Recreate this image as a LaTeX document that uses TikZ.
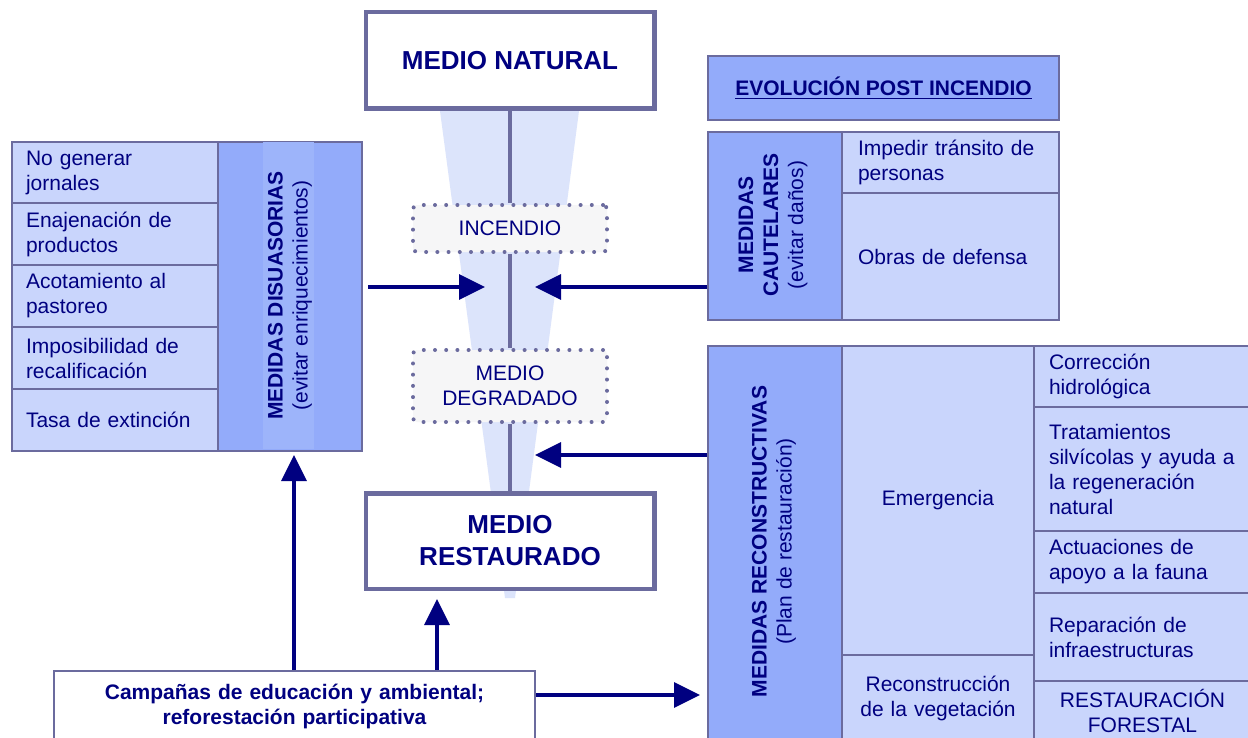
\documentclass[tikz,border=0pt]{standalone}
\usepackage{fontspec}
\setmainfont{Liberation Sans}
\usetikzlibrary{arrows.meta}
\definecolor{navy}{HTML}{000080}
\definecolor{bordc}{HTML}{6B6B9E}
\definecolor{hdrc}{HTML}{93ABFA}
\definecolor{stripec}{HTML}{9DB4FA}
\definecolor{itemc}{HTML}{C9D5FC}
\definecolor{wedgec}{HTML}{DCE4FB}
\definecolor{dotc}{HTML}{F6F6F7}
\begin{document}
\begin{tikzpicture}[x=0.5pt,y=-0.5pt,
  txt/.style={text=navy, font=\fontsize{10.5}{12.5}\selectfont},
  cell/.style={txt, draw=bordc, line width=1pt, fill=itemc, anchor=north west, inner ysep=0pt},
  lcell/.style={cell, align=left, inner xsep=7pt, text width=#1},
  ccell/.style={cell, align=center, inner xsep=0pt},
  hcell/.style={cell, fill=hdrc, inner sep=0pt},
  rot/.style={txt, rotate=90, align=center, inner sep=0pt},
  bigbox/.style={draw=bordc, line width=2.25pt, fill=white, text=navy, align=center,
     font=\fontsize{13}{16}\selectfont\bfseries, minimum width=144.25pt, inner sep=0pt},
  dotbox/.style={txt, draw=bordc, line width=2pt, dash pattern=on 0pt off 5.6pt, line cap=round,
     fill=dotc, rounded corners=2pt, align=center, minimum width=97pt, inner sep=0pt},
  vline/.style={draw=bordc, line width=2pt},
  arr/.style={draw=navy, line width=1.7pt, -{Triangle[length=13pt,width=12.5pt]}}
]
\useasboundingbox (0,0) rectangle (1248,738);
\fill[white] (0,0) rectangle (1248,738);

% wedge
\fill[wedgec] (440,111) -- (579,111) -- (515,598) -- (505,598) -- cycle;

% central boxes
\node[bigbox, minimum height=48.25pt] (nat) at (510,60.5) {MEDIO NATURAL};
\node[dotbox, minimum height=23.5pt] (inc) at (510,228.5) {INCENDIO};
\node[dotbox, minimum height=36pt] (deg) at (510,386) {MEDIO\\DEGRADADO};
\node[bigbox, minimum height=47.75pt] (rest) at (510,541) {MEDIO\\RESTAURADO};

\draw[vline] (nat) -- (inc);
\draw[vline] (inc) -- (deg);
\draw[vline] (deg) -- (rest);

% left table: medidas disuasorias
\node[lcell=89pt, minimum height=30.5pt] (d1) at (11,141) {No generar\\jornales};
\node[lcell=89pt, minimum height=31pt] (d2) at (11,202) {Enajenación de\\productos};
\node[lcell=89pt, minimum height=31pt] (d3) at (11,264) {Acotamiento al\\pastoreo};
\node[lcell=89pt, minimum height=31pt] (d4) at (11,326) {Imposibilidad de\\recalificación};
\node[lcell=89pt, minimum height=31pt] (d5) at (11,388) {Tasa de extinción};
\node[hcell, minimum width=72pt, minimum height=154.5pt] (dish) at (217,141) {};
\fill[stripec] (263,142) rectangle (314,449);
\node[rot] (dist) at (290,295.5) {{\bfseries MEDIDAS DISUASORIAS}\\(evitar enriquecimientos)};

% right top
\node[hcell, minimum width=175.5pt, minimum height=32pt, txt, font=\fontsize{10.5}{12.5}\selectfont\bfseries] (evo) at (707,55) {\underline{EVOLUCIÓN POST INCENDIO}};

% medidas cautelares
\node[hcell, minimum width=67pt, minimum height=94pt] (cauth) at (707,131) {};
\node[rot] (caut) at (773,225) {{\bfseries MEDIDAS}\\{\bfseries CAUTELARES}\\(evitar daños)};
\node[lcell=92.5pt, inner xsep=8pt, minimum height=30.5pt] (c1) at (841,131) {Impedir tránsito de\\personas};
\node[lcell=92.5pt, inner xsep=8pt, minimum height=63.5pt] (c2) at (841,192) {Obras de defensa};

% medidas reconstructivas
\node[hcell, minimum width=67pt, minimum height=197.5pt] (rech) at (707,345) {};
\node[rot] (rect) at (774,541.5) {{\bfseries MEDIDAS RECONSTRUCTIVAS}\\(Plan de restauración)};
\node[ccell, text width=96pt, minimum height=154.5pt] (emer) at (841,345) {Emergencia};
\node[ccell, text width=96pt, minimum height=43pt] (recv) at (841,654) {Reconstrucción\\de la vegetación};
\node[lcell=93.5pt, inner xsep=7.5pt, minimum height=30.5pt] (r1) at (1033,345) {Corrección\\hidrológica};
\node[lcell=93.5pt, inner xsep=7.5pt, minimum height=62pt] (r2) at (1033,406) {Tratamientos\\silvícolas y ayuda a\\la regeneración\\natural};
\node[lcell=93.5pt, inner xsep=7.5pt, minimum height=31pt] (r3) at (1033,530) {Actuaciones de\\apoyo a la fauna};
\node[lcell=93.5pt, inner xsep=7.5pt, minimum height=44pt] (r4) at (1033,592) {Reparación de\\infraestructuras};
\node[ccell, text width=108.5pt, minimum height=30pt] (r5) at (1033,680) {RESTAURACIÓN\\FORESTAL};

% campañas
\node[cell, fill=white, align=center, text width=240.5pt, inner xsep=0pt, minimum height=35pt,
      font=\fontsize{10.5}{12.5}\selectfont\bfseries] (camp) at (53,670)
      {Campañas de educación y ambiental;\\reforestación participativa};

% arrows
\coordinate (t1) at (485,287);
\coordinate (t2) at (535,287);
\coordinate (t3) at (535,455);
\coordinate (t4) at (294,455);
\coordinate (t5) at (437,599);
\coordinate (t6) at (700,695);
\draw[arr, shorten <=2.5pt] (dish.east |- t1) -- (t1);
\draw[arr] (cauth.west |- t2) -- (t2);
\draw[arr] (rech.west |- t3) -- (t3);
\draw[arr] (camp.north -| t4) -- (t4);
\draw[arr] (camp.north -| t5) -- (t5);
\draw[arr] (camp.east |- t6) -- (t6);
\end{tikzpicture}
\end{document}
